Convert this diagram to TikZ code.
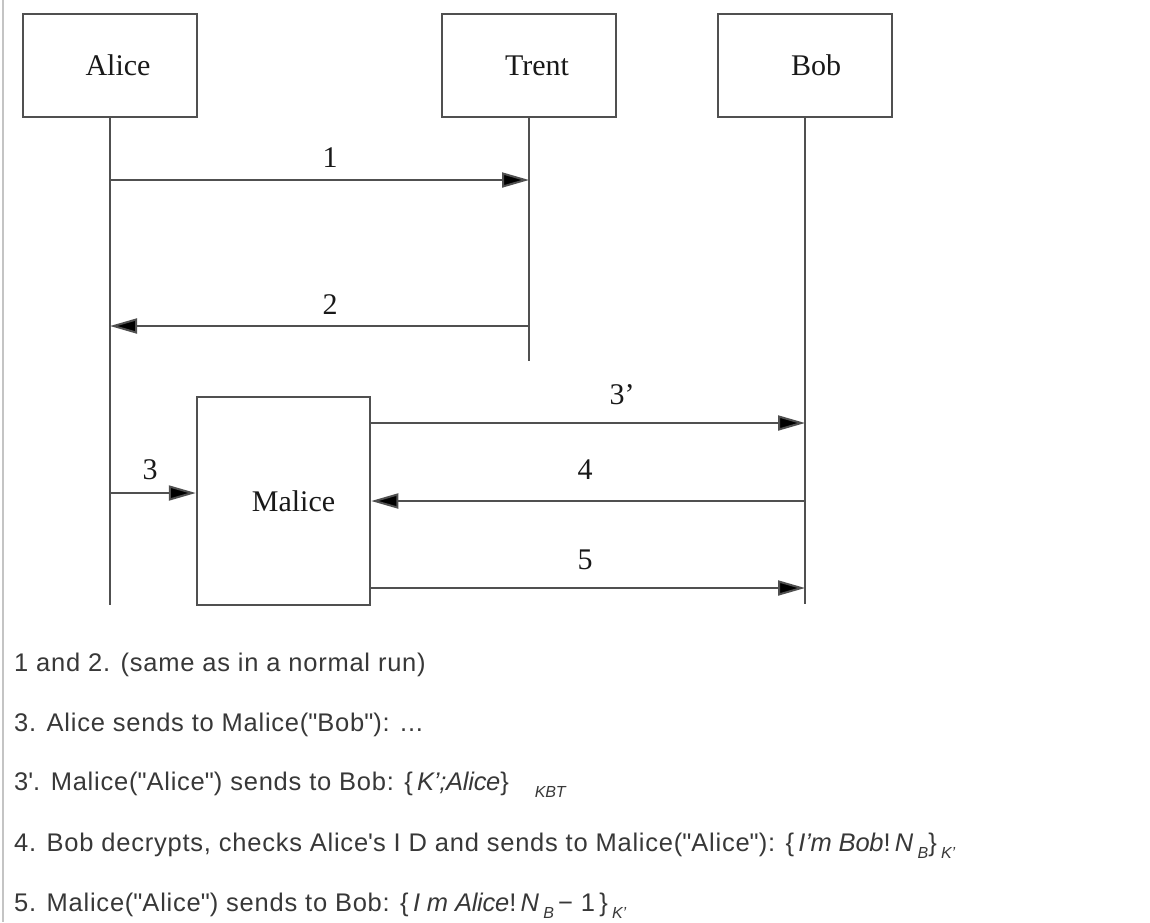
\documentclass[tikz,border=0pt]{standalone}
\usepackage{fontspec}
\setmainfont{Liberation Serif}
\newfontfamily\txtfont[LetterSpace=3]{Liberation Sans}
\newfontfamily\itfont[LetterSpace=-1]{Liberation Sans}
\usetikzlibrary{arrows.meta}
\definecolor{lineg}{HTML}{505050}
\definecolor{txtg}{HTML}{383838}
\definecolor{edgeg}{HTML}{C4C4C4}
\newcommand{\qd}{\textquotedbl}
\newcommand{\qs}{\textquotesingle}
\newcommand{\mi}[1]{{\itfont\itshape #1}}
\newcommand{\sub}[1]{\raisebox{-7pt}{\fontsize{16}{16}\selectfont\mi{#1}}}
\begin{document}
\begin{tikzpicture}[x=1pt,y=-1pt,
  actor/.style={draw=lineg, line width=2.5pt, inner sep=0pt, fill=white,
    minimum width=174pt, minimum height=103pt,
    font=\fontsize{30}{30}\selectfont, text=black!90},
  life/.style={draw=lineg, line width=2pt},
  msg/.style={draw=lineg, line width=2pt, -{Triangle[length=27pt,width=15pt,fill=black]}},
  num/.style={font=\fontsize{30}{30}\selectfont, text=black!90, inner sep=0pt},
  desc/.style={font=\txtfont\fontsize{25.5}{27}\selectfont, text=txtg, anchor=base west, inner sep=0pt}
]
\useasboundingbox (0,0) rectangle (1150,922);
\fill[white] (0,0) rectangle (1150,922);
% left page edge
\coordinate (et) at (3,0);
\coordinate (eb) at (3,922);
\draw[edgeg, line width=1.6pt] (et) -- (eb);

% actors
\node[actor] (alice) at (110,65.5) {\hspace*{16pt}Alice};
\node[actor] (trent) at (529,65.5) {\hspace*{16pt}Trent};
\node[actor] (bob) at (805,65.5) {\hspace*{22pt}Bob};
\node[actor, minimum width=173pt, minimum height=208pt] (malice) at (283.5,501) {\hspace*{20pt}Malice};

% lifeline ends
\coordinate (aend) at (110,605);
\coordinate (tend) at (529,361);
\coordinate (bend) at (805,604);
\draw[life] (alice.south) -- (aend);
\draw[life] (trent.south) -- (tend);
\draw[life] (bob.south) -- (bend);

% message points
\coordinate (a1) at (110,180);
\coordinate (t1) at (529,180);
\coordinate (a2) at (110,326);
\coordinate (t2) at (529,326);
\coordinate (a3) at (110,493);
\coordinate (b3p) at (805,423);
\coordinate (b4) at (805,501);
\coordinate (b5) at (805,588);

\draw[msg] (a1) -- (t1);
\draw[msg] (t2) -- (a2);
\draw[msg] (a3) -- (a3 -| malice.west);
\draw[msg] (malice.east |- b3p) -- (b3p);
\draw[msg] (b4) -- (malice.east |- b4);
\draw[msg] (malice.east |- b5) -- (b5);

% labels
\node[num] (l1) at (330,158) {1};
\node[num] (l2) at (330,305) {2};
\node[num] (l3) at (150,470) {3};
\node[num] (l3p) at (622,395) {3’};
\node[num] (l4) at (585,470) {4};
\node[num] (l5) at (585,560) {5};

% description lines
\node[desc] (d1) at (14,671) {1 and 2. (same as in a normal run)};
\node[desc] (d2) at (14,731) {3. Alice sends to Malice(\qd Bob\qd): ...};
\node[desc] (d3) at (14,790) {3\qs. Malice(\qd Alice\qd) sends to Bob: \{\,\mi{K’;Alice}\}\hspace{26pt}\sub{KBT}};
\node[desc] (d4) at (14,851) {4. Bob decrypts, checks Alice\qs s I D and sends to Malice(\qd Alice\qd): \{\,\mi{I’m Bob}!\,\mi{N}\,\sub{B}\}\,\sub{K’}};
\node[desc] (d5) at (14,911) {5. Malice(\qd Alice\qd) sends to Bob: \{\,\mi{I m Alice}!\,\mi{N}\,\sub{B}\,− 1\,\}\,\sub{K’}};
\end{tikzpicture}
\end{document}
